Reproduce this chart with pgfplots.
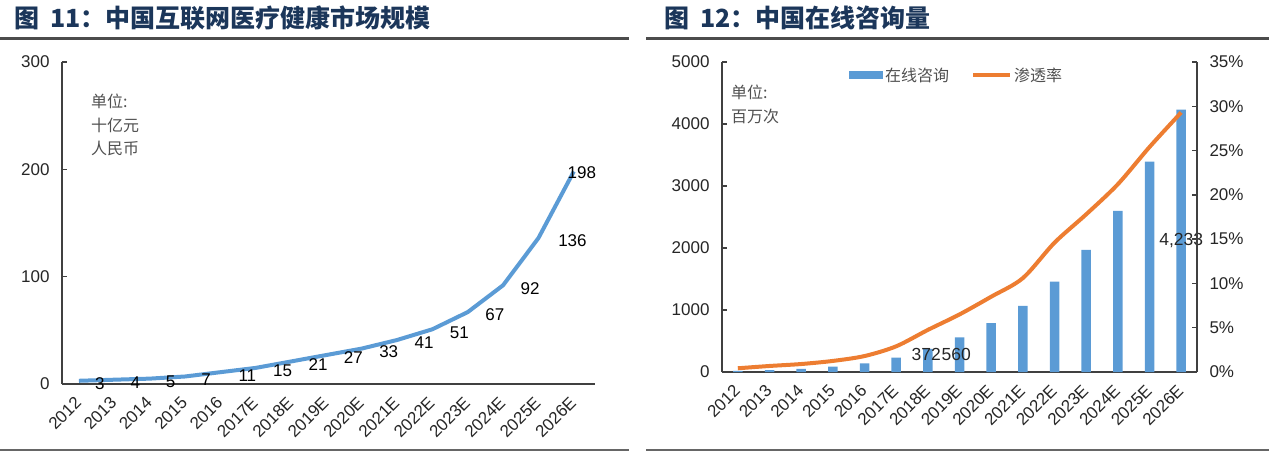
\documentclass[border=0pt]{standalone}
\usepackage{pgfplots}
\pgfplotsset{compat=1.18}
\usepackage{pgfplotstable}
\usepackage{fontspec}
\setmainfont{Liberation Sans}
\newfontfamily\cjk{Noto Sans CJK SC}
\definecolor{barblue}{HTML}{5B9BD5}
\definecolor{lineorange}{HTML}{ED7D31}
\definecolor{titlenavy}{HTML}{1B365A}
\definecolor{axisgray}{HTML}{404040}
\definecolor{txtgray}{HTML}{262626}
\definecolor{unitgray}{HTML}{505050}

\pgfplotstableread{
x y
0 3
1 4
2 5
3 7
4 11
5 15
6 21
7 27
8 33
9 41
10 51
11 67
12 92
13 136
14 198
}\market

\pgfplotstableread{
x cons
0 20
1 30
2 50
3 85
4 140
5 230
6 372
7 560
8 790
9 1065
10 1457
11 1968
12 2597
13 3393
14 4233
}\consult

\pgfplotstableread{
x ymid lab
5.95 275 372
6.9 275 560
14 2116 {4,233}
}\conlab

\pgfplotstableread{
x rate
0 0.42
1 0.68
2 0.9
3 1.25
4 1.8
5 2.9
6 4.75
7 6.5
8 8.5
9 10.6
10 14.6
11 17.8
12 21.2
13 25.4
14 29.3
}\pen

\pgfplotsset{
  common/.style={
    scale only axis,
    axis line style={axisgray, line width=1.3pt, -},
    tick style={axisgray, line width=1.3pt},
    tick align=inside,
    major tick length=5pt,
    tick label style={font=\fontsize{17}{20}\selectfont, text=txtgray},
    /pgf/number format/assume math mode=true,
    /pgf/number format/1000 sep={},
    xtick={0,...,14},
    xticklabels={2012,2013,2014,2015,2016,2017E,2018E,2019E,2020E,2021E,2022E,2023E,2024E,2025E,2026E},
    x tick style={draw=none},
    xticklabel style={yshift=-15pt, rotate=45, anchor=east, inner sep=1pt},
  }
}

\begin{document}
\begin{tikzpicture}
\useasboundingbox (0,-457pt) rectangle (1269pt,0pt);

% titles and rules
\node[anchor=west, inner sep=0, font=\cjk\bfseries\fontsize{25}{28}\selectfont, text=titlenavy] at (14pt,-18pt) {图\hspace{11pt}11：中国互联网医疗健康市场规模};
\node[anchor=west, inner sep=0, font=\cjk\bfseries\fontsize{25}{28}\selectfont, text=titlenavy] at (664pt,-18pt) {图\hspace{11pt}12：中国在线咨询量};
\draw[line width=3pt, color=black!70] (0pt,-39pt) -- (629pt,-39pt);
\draw[line width=3pt, color=black!70] (646pt,-39pt) -- (1269pt,-39pt);
\draw[line width=1.2pt, color=black!60] (0pt,-450pt) -- (629pt,-450pt);
\draw[line width=1.2pt, color=black!60] (646pt,-450pt) -- (1269pt,-450pt);

% ---------- left chart ----------
\begin{axis}[common,
  at={(62pt,-384pt)}, anchor=south west,
  width=533pt, height=322pt,
  xmin=-0.48, xmax=14.6,
  ymin=0, ymax=300,
  ytick={0,100,200,300},
  axis x line*=bottom, axis y line*=left,
  yticklabel style={xshift=-9pt},
  clip=false,
]
\addplot[barblue, line width=4pt, line join=round,
  nodes near coords,
  nodes near coords style={font=\fontsize{17}{20}\selectfont, text=black, anchor=center, xshift=27pt, yshift=-3pt},
  coordinate style/.condition={\coordindex<4}{xshift=-6pt},
  coordinate style/.condition={\coordindex==13}{xshift=7pt},
  coordinate style/.condition={\coordindex==14}{xshift=-19pt, yshift=2pt},
] table[x=x, y=y] {\market};
\end{axis}
\node[anchor=north west, inner sep=0, align=left, font=\cjk\fontsize{16}{23.5}\selectfont, text=unitgray] at (91pt,-94pt) {单位:\\十亿元\\人民币};

% ---------- right chart ----------
\begin{axis}[common,
  at={(722pt,-372pt)}, anchor=south west,
  width=475pt, height=310pt,
  xmin=-0.5, xmax=14.5,
  ymin=0, ymax=5000,
  ytick={0,1000,2000,3000,4000,5000},
  axis x line*=bottom, axis y line*=left,
  yticklabel style={xshift=-9pt},
  clip=false,
  legend style={at={(0.267,0.958)}, anchor=west, draw=none, fill=none, inner sep=0pt,
    font=\cjk\fontsize{16}{18}\selectfont, text=unitgray},
  legend columns=2,
  legend cell align=left,
  /tikz/every even column/.append style={column sep=20pt},
]
\addplot[ybar, bar width=9.5pt, fill=barblue, draw=none,
  legend image code/.code={\fill[barblue] (0pt,-4pt) rectangle (34pt,4pt);}]
  table[x=x, y=cons] {\consult};
\addlegendentry{在线咨询}
\addlegendimage{lineorange, line width=4pt, legend image code/.code={\draw[lineorange, line width=4pt] (0pt,0pt) -- (37pt,0pt);}}
\addlegendentry{渗透率}
\addplot[draw=none, forget plot,
  nodes near coords, point meta=explicit symbolic,
  nodes near coords style={font=\fontsize{17.5}{20}\selectfont, text=txtgray, anchor=center},
] table[x=x, y=ymid, meta=lab] {\conlab};
\end{axis}
\begin{axis}[common,
  at={(722pt,-372pt)}, anchor=south west,
  width=475pt, height=310pt,
  xmin=-0.5, xmax=14.5,
  ymin=0, ymax=35,
  ytick={0,5,...,35},
  yticklabel={\pgfmathprintnumber{\tick}\%},
  axis x line=none, axis y line*=right,
  yticklabel style={xshift=9pt},
  xticklabels={},
]
\addplot[lineorange, line width=4pt, smooth, line join=round] table[x=x, y=rate] {\pen};
\end{axis}
\node[anchor=north west, inner sep=0, align=left, font=\cjk\fontsize{16}{23.5}\selectfont, text=unitgray] at (731pt,-85pt) {单位:\\百万次};
\end{tikzpicture}
\end{document}
